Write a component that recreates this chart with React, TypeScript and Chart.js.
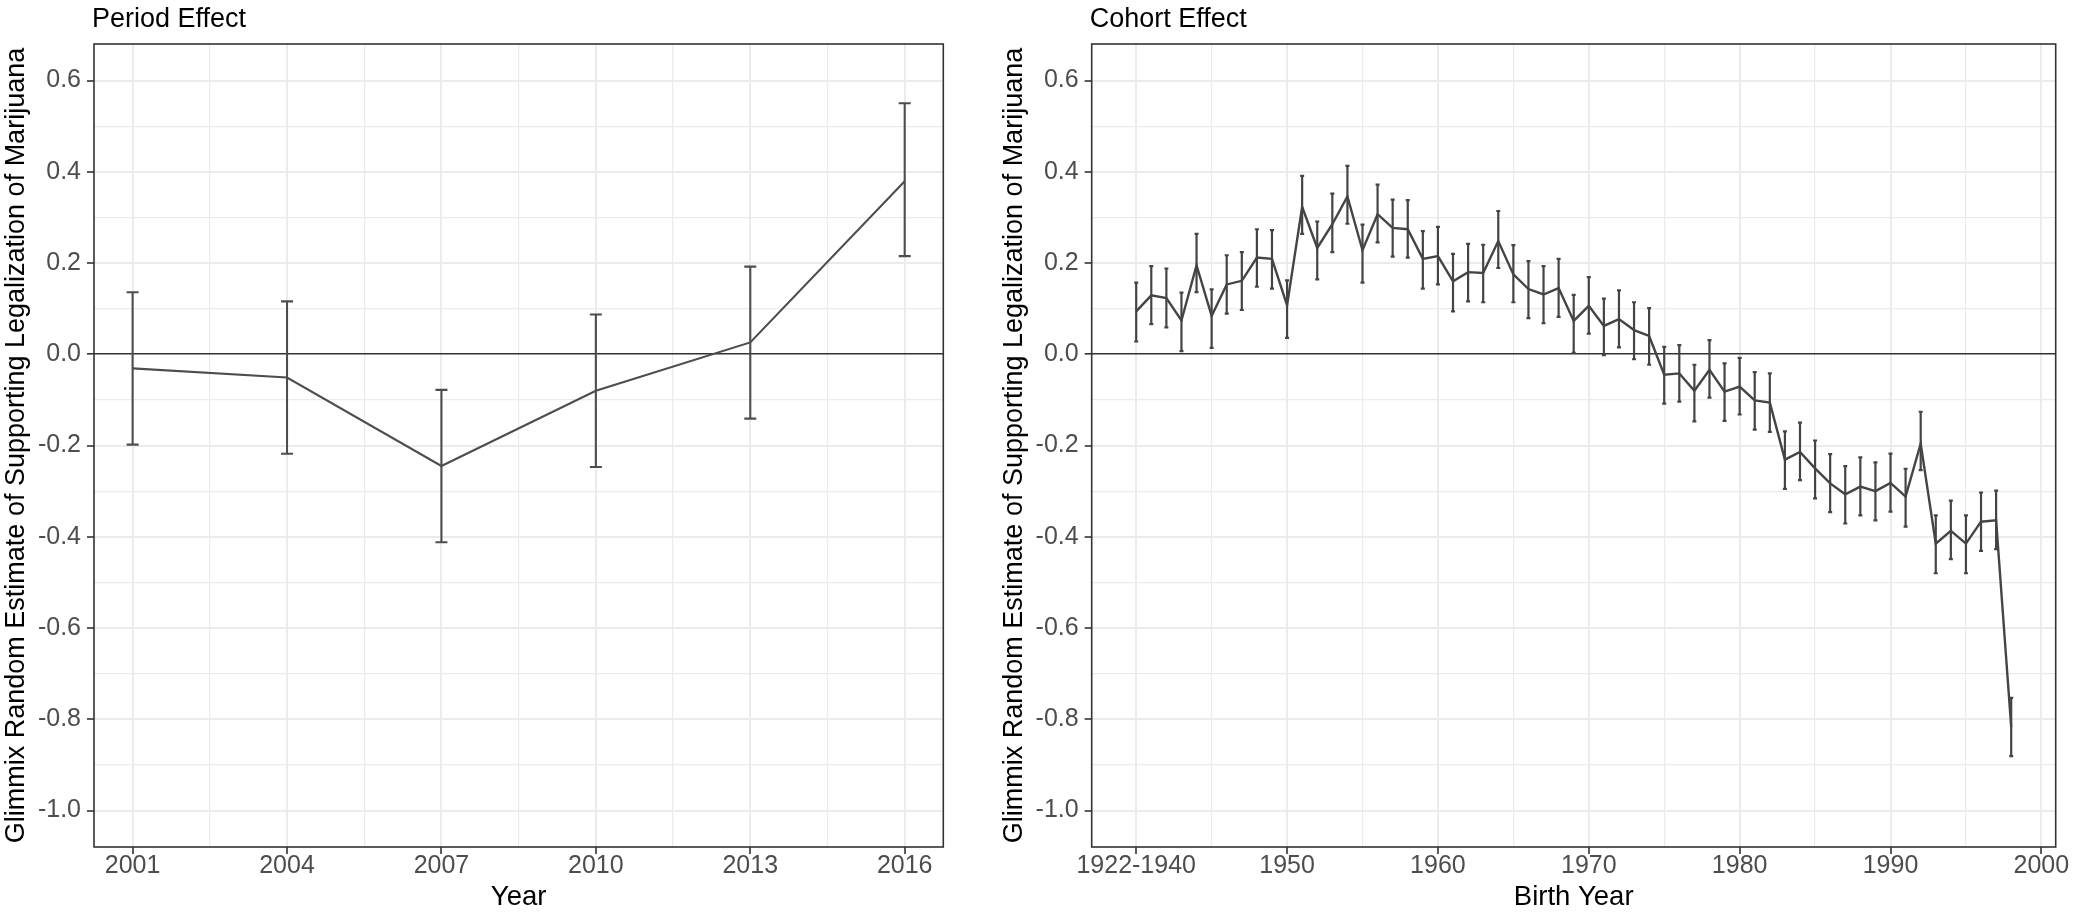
import React, { useEffect, useRef } from 'react';
import { Chart, registerables } from 'chart.js';

Chart.register(...registerables);

const FONT = "'Liberation Sans', Arial, Helvetica, sans-serif";

// ---------- Period effect ----------
const periodYears = [2001, 2004, 2007, 2010, 2013, 2016];
const periodEstimate = [-0.031, -0.051, -0.245, -0.080, 0.026, 0.379];
const periodUpper = [0.136, 0.116, -0.078, 0.087, 0.192, 0.550];
const periodLower = [-0.198, -0.218, -0.412, -0.247, -0.141, 0.215];
const periodXTicks = [2001, 2002.5, 2004, 2005.5, 2007, 2008.5, 2010, 2011.5, 2013, 2014.5, 2016];
const periodXLabels = ['2001', '', '2004', '', '2007', '', '2010', '', '2013', '', '2016'];

// ---------- Cohort effect ----------
const cohortYears = [
  1940, 1941, 1942, 1943, 1944, 1945, 1946, 1947, 1948, 1949,
  1950, 1951, 1952, 1953, 1954, 1955, 1956, 1957, 1958, 1959,
  1960, 1961, 1962, 1963, 1964, 1965, 1966, 1967, 1968, 1969,
  1970, 1971, 1972, 1973, 1974, 1975, 1976, 1977, 1978, 1979,
  1980, 1981, 1982, 1983, 1984, 1985, 1986, 1987, 1988, 1989,
  1990, 1991, 1992, 1993, 1994, 1995, 1996, 1997, 1998,
];
const cohortEstimate = [
  0.094, 0.129, 0.123, 0.074, 0.195, 0.084, 0.153, 0.161, 0.212, 0.209,
  0.107, 0.323, 0.233, 0.285, 0.346, 0.228, 0.307, 0.277, 0.274, 0.209,
  0.215, 0.160, 0.180, 0.178, 0.248, 0.175, 0.143, 0.131, 0.145, 0.073,
  0.106, 0.062, 0.077, 0.053, 0.040, -0.045, -0.042, -0.080, -0.034, -0.082,
  -0.071, -0.101, -0.106, -0.231, -0.214, -0.250, -0.283, -0.307, -0.290, -0.300,
  -0.282, -0.312, -0.196, -0.415, -0.387, -0.415, -0.367, -0.364, -0.817,
];
const cohortUpper = [
  0.157, 0.193, 0.188, 0.135, 0.264, 0.142, 0.217, 0.224, 0.274, 0.272,
  0.162, 0.391, 0.291, 0.352, 0.413, 0.284, 0.372, 0.339, 0.338, 0.270,
  0.279, 0.220, 0.242, 0.240, 0.314, 0.239, 0.204, 0.193, 0.209, 0.130,
  0.169, 0.122, 0.140, 0.114, 0.101, 0.016, 0.020, -0.023, 0.031, -0.020,
  -0.008, -0.039, -0.042, -0.169, -0.150, -0.189, -0.219, -0.245, -0.226, -0.237,
  -0.218, -0.251, -0.126, -0.353, -0.321, -0.353, -0.303, -0.299, -0.753,
];
const cohortLower = [
  0.028, 0.066, 0.059, 0.007, 0.136, 0.014, 0.089, 0.097, 0.148, 0.144,
  0.036, 0.264, 0.164, 0.224, 0.286, 0.157, 0.245, 0.214, 0.212, 0.144,
  0.153, 0.094, 0.116, 0.114, 0.189, 0.114, 0.079, 0.068, 0.082, 0.003,
  0.045, -0.002, 0.015, -0.011, -0.023, -0.108, -0.104, -0.147, -0.095, -0.146,
  -0.132, -0.165, -0.170, -0.295, -0.276, -0.316, -0.346, -0.371, -0.353, -0.364,
  -0.345, -0.378, -0.254, -0.480, -0.449, -0.480, -0.431, -0.427, -0.881,
];
const cohortXTicks = [1940, 1945, 1950, 1955, 1960, 1965, 1970, 1975, 1980, 1985, 1990, 1995, 2000];
const cohortXLabels = ['1922-1940', '', '1950', '', '1960', '', '1970', '', '1980', '', '1990', '', '2000'];

// ---------- shared y axis ----------
const yTicks = [-1.0, -0.9, -0.8, -0.7, -0.6, -0.5, -0.4, -0.3, -0.2, -0.1, 0.0, 0.1, 0.2, 0.3, 0.4, 0.5, 0.6];
const yLabels = ['-1.0', '', '-0.8', '', '-0.6', '', '-0.4', '', '-0.2', '', '0.0', '', '0.2', '', '0.4', '', '0.6'];
const yTitle = 'Glimmix Random Estimate of Supporting Legalization of Marijuana';

type PanelSpec = {
  title: string;
  xTitle: string;
  years: number[];
  est: number[];
  upper: number[];
  lower: number[];
  xMin: number;
  xMax: number;
  xTicks: number[];
  xLabels: string[];
  yWidth: number;
  padRight: number;
  lineWidth: number;
  lineColor: string;
  barWidth: number;
  barColor: string;
  capRadius: number;
};

function buildConfig(p: PanelSpec): any {
  const stems: any[] = [];
  const caps: any[] = [];
  p.years.forEach((yr, i) => {
    stems.push({ x: yr, y: p.lower[i] }, { x: yr, y: p.upper[i] }, { x: yr, y: null });
    caps.push({ x: yr, y: p.upper[i] }, { x: yr, y: p.lower[i] });
  });
  const line = p.years.map((yr, i) => ({ x: yr, y: p.est[i] }));

  const panelPlugin = {
    id: 'panelDecor',
    afterDraw(chart: any) {
      const { ctx, chartArea } = chart;
      ctx.save();
      ctx.strokeStyle = '#333333';
      ctx.lineWidth = 1.6;
      ctx.strokeRect(chartArea.left, chartArea.top, chartArea.right - chartArea.left, chartArea.bottom - chartArea.top);
      ctx.fillStyle = '#000000';
      ctx.font = `27px ${FONT}`;
      ctx.textAlign = 'left';
      ctx.textBaseline = 'alphabetic';
      ctx.fillText(p.title, chartArea.left - 2, 26.5);
      ctx.restore();
    },
  };

  return {
    type: 'line',
    data: {
      datasets: [
        { data: line, borderColor: p.lineColor, borderWidth: p.lineWidth, pointRadius: 0, tension: 0, order: 0 },
        { data: stems, borderColor: p.barColor, borderWidth: p.barWidth, pointRadius: 0, spanGaps: false, order: 1 },
        {
          data: caps,
          showLine: false,
          pointStyle: 'line',
          pointRadius: p.capRadius,
          pointBorderWidth: p.barWidth,
          pointBorderColor: p.barColor,
          pointBackgroundColor: p.barColor,
          order: 2,
        },
      ],
    },
    options: {
      animation: false,
      responsive: false,
      events: [],
      layout: { padding: { top: 44, right: p.padRight, left: 0, bottom: 0 } },
      plugins: { legend: { display: false }, tooltip: { enabled: false }, title: { display: false } },
      scales: {
        x: {
          type: 'linear',
          min: p.xMin,
          max: p.xMax,
          afterBuildTicks: (s: any) => {
            s.ticks = p.xTicks.map((v) => ({ value: v }));
          },
          afterFit: (s: any) => {
            s.height = 67;
          },
          ticks: {
            autoSkip: false,
            maxRotation: 0,
            minRotation: 0,
            padding: 0,
            color: '#4d4d4d',
            font: { family: FONT, size: 25, lineHeight: 1 },
            callback: (_v: any, i: number) => p.xLabels[i],
          },
          grid: {
            color: '#ebebeb',
            lineWidth: (c: any) => (p.xLabels[c.index] ? 2 : 1.2),
            drawTicks: true,
            tickLength: 7,
            tickWidth: 1.6,
            tickColor: (c: any) => (p.xLabels[c.index] ? '#333333' : 'rgba(0,0,0,0)'),
          },
          border: { display: false },
          title: { display: true, text: p.xTitle, color: '#000000', font: { family: FONT, size: 27.5 }, padding: 0 },
        },
        y: {
          type: 'linear',
          min: -1.08,
          max: 0.68,
          afterBuildTicks: (s: any) => {
            s.ticks = yTicks.map((v) => ({ value: v }));
          },
          afterFit: (s: any) => {
            s.width = p.yWidth;
          },
          ticks: {
            autoSkip: false,
            padding: 6,
            color: '#4d4d4d',
            font: { family: FONT, size: 25 },
            callback: (_v: any, i: number) => yLabels[i],
          },
          grid: {
            color: (c: any) => (yTicks[c.index] === 0 ? '#333333' : '#ebebeb'),
            lineWidth: (c: any) => (yTicks[c.index] === 0 ? 1.6 : yLabels[c.index] ? 2 : 1.2),
            drawTicks: true,
            tickLength: 7,
            tickWidth: 1.6,
            tickColor: (c: any) => (yLabels[c.index] ? '#333333' : 'rgba(0,0,0,0)'),
          },
          border: { display: false },
          title: { display: true, text: yTitle, color: '#000000', font: { family: FONT, size: 27 }, padding: 0 },
        },
      },
    },
    plugins: [panelPlugin],
  };
}

const periodSpec: PanelSpec = {
  title: 'Period Effect',
  xTitle: 'Year',
  years: periodYears,
  est: periodEstimate,
  upper: periodUpper,
  lower: periodLower,
  xMin: 2000.25,
  xMax: 2016.75,
  xTicks: periodXTicks,
  xLabels: periodXLabels,
  yWidth: 94,
  padRight: 56.7,
  lineWidth: 2.1,
  lineColor: '#4d4d4d',
  barWidth: 2.1,
  barColor: '#4d4d4d',
  capRadius: 6,
};

const cohortSpec: PanelSpec = {
  title: 'Cohort Effect',
  xTitle: 'Birth Year',
  years: cohortYears,
  est: cohortEstimate,
  upper: cohortUpper,
  lower: cohortLower,
  xMin: 1937.05,
  xMax: 2000.95,
  xTicks: cohortXTicks,
  xLabels: cohortXLabels,
  yWidth: 93.7,
  padRight: 27.3,
  lineWidth: 2.4,
  lineColor: '#444444',
  barWidth: 2.2,
  barColor: '#444444',
  capRadius: 2,
};

function Panel({ spec, left, width }: { spec: PanelSpec; left: number; width: number }) {
  const ref = useRef<HTMLCanvasElement | null>(null);
  useEffect(() => {
    if (!ref.current) return;
    const chart = new Chart(ref.current, buildConfig(spec));
    return () => chart.destroy();
  }, [spec]);
  return (
    <canvas
      ref={ref}
      width={width}
      height={914}
      style={{ position: 'absolute', left, top: 0, width, height: 914, display: 'block' }}
    />
  );
}

export default function App() {
  return (
    <div style={{ position: 'absolute', left: 0, top: 0, width: 2083, height: 914, background: '#ffffff', overflow: 'hidden' }}>
      <Panel spec={periodSpec} left={0} width={1000} />
      <Panel spec={cohortSpec} left={998} width={1085} />
    </div>
  );
}
